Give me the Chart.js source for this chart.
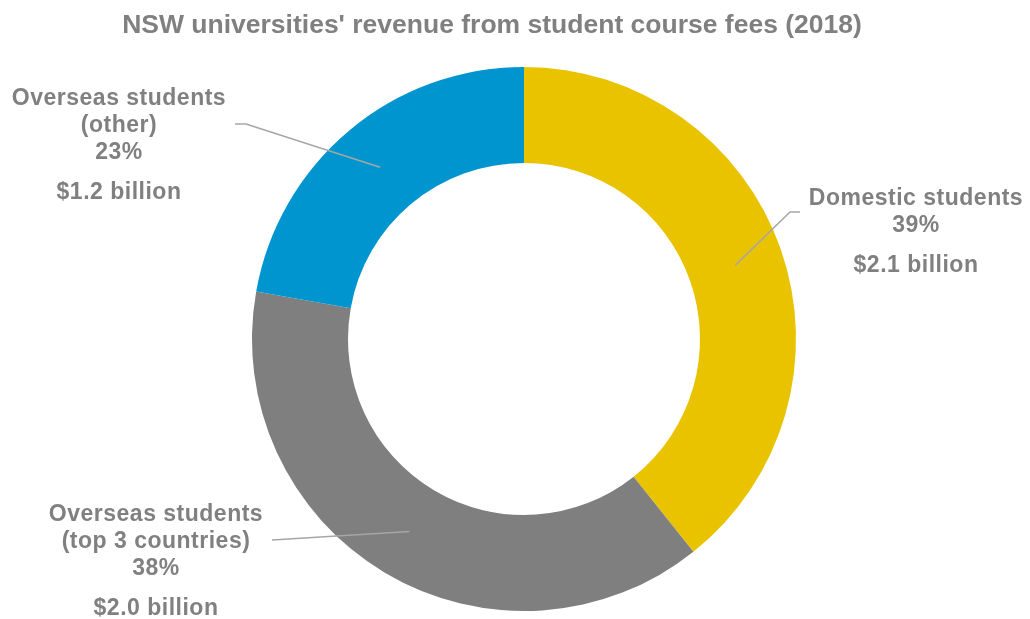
<!DOCTYPE html>
<html>
<head>
<meta charset="utf-8">
<script src="https://cdn.jsdelivr.net/npm/chart.js@4"></script>
<style>
    html, body { margin: 0; padding: 0; background: #ffffff; }
    #wrap { position: relative; width: 1030px; height: 619px; }
</style>
</head>
<body>
<div id="wrap"><canvas id="chart"></canvas></div>
<script>
// 資料
const TITLE = "NSW universities' revenue from student course fees (2018)";
const categories = ['Domestic students', 'Overseas students (top 3 countries)', 'Overseas students (other)'];
const shares = [39.3, 38.5, 22.2];          // slice sizes
const pctLabels = ['39%', '38%', '23%'];
const revenueLabels = ['$2.1 billion', '$2.0 billion', '$1.2 billion'];
const nameLines = [['Domestic students'], ['Overseas students', '(top 3 countries)'], ['Overseas students', '(other)']];

const COLORS = {
    slices: ['#E9C300', '#7F7F7F', '#0095CF'],
    text: '#808080',
    leader: '#A6A6A6'
};

// label layout (text block centre x, first line y, leader elbow)
const LABEL_LAYOUT = [
    { x: 916, y: 199, elbow: [[800, 212], [790, 212]] },
    { x: 156, y: 515, elbow: [[272, 540]] },
    { x: 119, y: 99,  elbow: [[235, 124], [246, 124]] }
];

const FONT = "bold 23px 'Liberation Sans', Arial, sans-serif";

const labelPlugin = {
    id: 'sliceLabels',
    afterDraw(chart) {
        const ctx = chart.ctx;
        ctx.save();
        // title
        ctx.font = "bold 26.5px 'Liberation Sans', Arial, sans-serif";
        ctx.fillStyle = COLORS.text;
        ctx.textAlign = 'center';
        ctx.textBaseline = 'middle';
        ctx.fillText(TITLE, 492, 26);

        const arcs = chart.getDatasetMeta(0).data;
        arcs.forEach((arc, i) => {
            const pos = arc.tooltipPosition();
            const lay = LABEL_LAYOUT[i];
            // leader line
            ctx.strokeStyle = COLORS.leader;
            ctx.lineWidth = 1.5;
            ctx.beginPath();
            ctx.moveTo(lay.elbow[0][0], lay.elbow[0][1]);
            for (let k = 1; k < lay.elbow.length; k++) ctx.lineTo(lay.elbow[k][0], lay.elbow[k][1]);
            ctx.lineTo(pos.x, pos.y);
            ctx.stroke();

            // text
            ctx.font = FONT;
            ctx.letterSpacing = '0.5px';
            ctx.fillStyle = COLORS.text;
            let y = lay.y;
            nameLines[i].forEach(line => {
                ctx.fillText(line, lay.x, y);
                y += 27;
            });
            ctx.fillText(pctLabels[i], lay.x, y);
            ctx.fillText(revenueLabels[i], lay.x, y + 40);
            ctx.letterSpacing = '0px';
        });
        ctx.restore();
    }
};

new Chart(document.getElementById('chart'), {
    type: 'doughnut',
    data: {
        labels: categories,
        datasets: [{
            data: shares,
            backgroundColor: COLORS.slices,
            borderWidth: 0
        }]
    },
    options: {
        responsive: true,
        maintainAspectRatio: false,
        animation: false,
        cutout: '64.7%',
        layout: { padding: { top: 67, bottom: 8, left: 18, right: 0 } },
        plugins: {
            legend: { display: false },
            tooltip: { enabled: false },
            title: { display: false }
        }
    },
    plugins: [labelPlugin]
});
</script>
</body>
</html>
